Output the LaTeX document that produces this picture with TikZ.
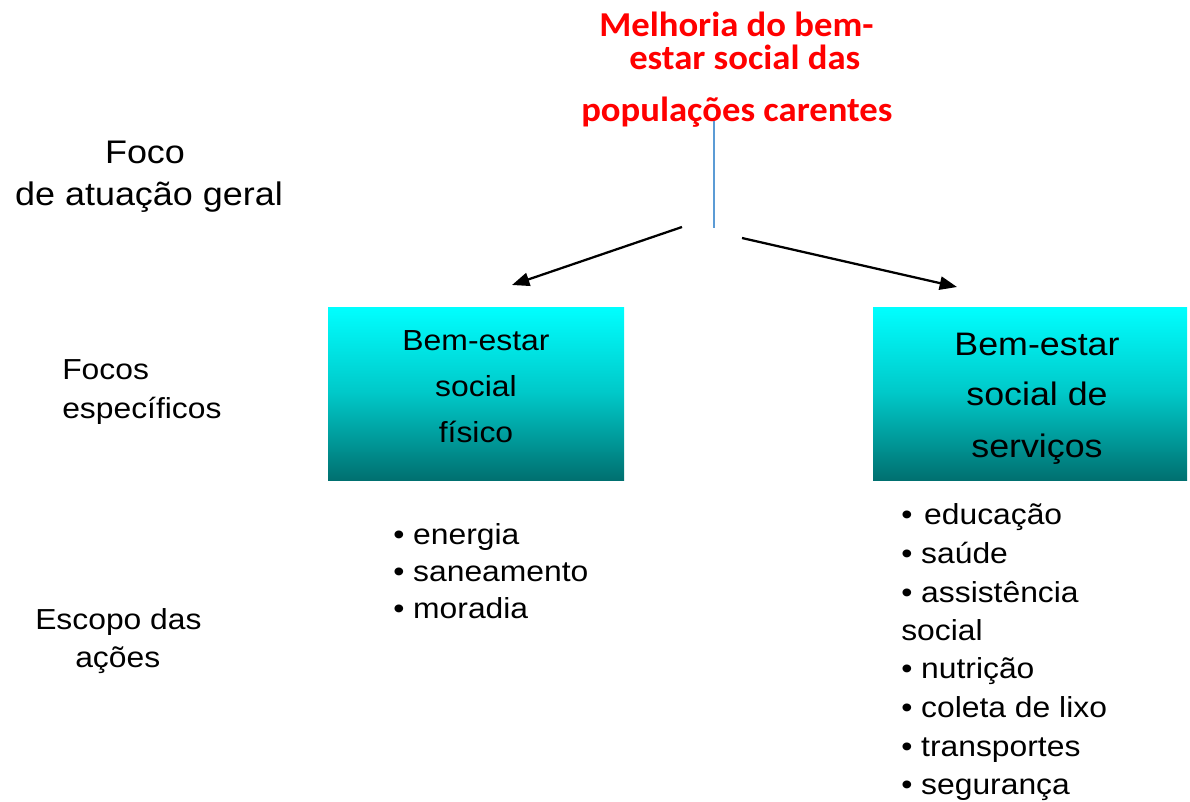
\documentclass[tikz,border=0pt]{standalone}
\usepackage{fontspec}
\usepackage{graphicx}
\setmainfont{Liberation Sans}
\newfontfamily\titlefont{Carlito}
\usetikzlibrary{arrows.meta}
\definecolor{titlered}{RGB}{255,0,0}
\definecolor{darkteal}{RGB}{0,112,112}
\definecolor{lineblue}{RGB}{91,155,213}
\newcommand\sx[1]{\scalebox{1.1}[1]{#1}}
\newcommand\tx[1]{\scalebox{1.05}[1]{#1}}
\begin{document}
\begin{tikzpicture}[x=0.75pt,y=-0.75pt,inner sep=0pt,
  ttl/.style={font=\titlefont\bfseries\fontsize{26.2pt}{30pt}\selectfont, text=titlered, anchor=base west},
  lbl/.style={font=\fontsize{21.7pt}{26pt}\selectfont, anchor=base west},
  biglbl/.style={font=\fontsize{24.5pt}{28pt}\selectfont, anchor=base},
  boxtxtL/.style={font=\fontsize{21.75pt}{26pt}\selectfont, anchor=base},
  boxtxtR/.style={font=\fontsize{24.4pt}{29pt}\selectfont, anchor=base},
  gbox/.style={rectangle, draw=none, top color=cyan, bottom color=darkteal, middle color={rgb,255:red,0;green,200;blue,200}},
  arr/.style={line width=1.7pt, -{Triangle[length=13pt,width=10pt]}}]
\useasboundingbox (0,0) rectangle (1190,801);
% title
\node[ttl, text depth=0pt] (t1) at (599,36) {\tx{Melhoria do bem-}};
\node[ttl, text height=17pt] (t2) at (629,69) {\tx{estar social das}};
\node[ttl] (t3) at (581,121) {\tx{populações carentes}};
\coordinate (ltop) at (714,121);
\coordinate (lbot) at (714,228);
\draw[lineblue, line width=0.8pt] (ltop) -- (lbot);
% arrows
\coordinate (a1s) at (682,227);
\coordinate (a1e) at (512,285);
\coordinate (a2s) at (742,238);
\coordinate (a2e) at (957,287);
\draw[arr] (a1s) -- (a1e);
\draw[arr] (a2s) -- (a2e);
% boxes
\node[gbox, minimum width=222pt, minimum height=129.75pt] (boxL) at (476,393.5) {};
\node[gbox, minimum width=235.5pt, minimum height=129.75pt] (boxR) at (1030,393.5) {};
\node[boxtxtL] (bl1) at (476,350) {\sx{Bem-estar}};
\node[boxtxtL] (bl2) at (476,396) {\sx{social}};
\node[boxtxtL] (bl3) at (476,442) {\sx{físico}};
\node[boxtxtR] (br1) at (1037,355) {\sx{Bem-estar}};
\node[boxtxtR] (br2) at (1037,405) {\sx{social de}};
\node[boxtxtR] (br3) at (1037,457) {\sx{serviços}};
% left labels
\node[biglbl] (f1) at (145,163) {\sx{Foco}};
\node[biglbl] (f2) at (149,205) {\sx{de atuação geral}};
\node[lbl] (fe1) at (62,379) {\sx{Focos}};
\node[lbl] (fe2) at (62,418) {\sx{específicos}};
\node[lbl] (es1) at (35,629) {\sx{Escopo das}};
\node[lbl] (es2) at (75,667) {\sx{ações}};
% left list
\node[lbl] (l1) at (393,544) {\sx{• energia}};
\node[lbl] (l2) at (393,581) {\sx{• saneamento}};
\node[lbl] (l3) at (393,618) {\sx{• moradia}};
% right list
\node[lbl] (r1) at (901,524) {\sx{•\hspace{2pt} educação}};
\node[lbl] (r2) at (901,563) {\sx{• saúde}};
\node[lbl] (r3) at (901,602) {\sx{• assistência}};
\node[lbl] (r4) at (901,640) {\sx{social}};
\node[lbl] (r5) at (901,678) {\sx{• nutrição}};
\node[lbl] (r6) at (901,717) {\sx{• coleta de lixo}};
\node[lbl] (r7) at (901,756) {\sx{• transportes}};
\node[lbl] (r8) at (901,794) {\sx{• segurança}};
\end{tikzpicture}
\end{document}
